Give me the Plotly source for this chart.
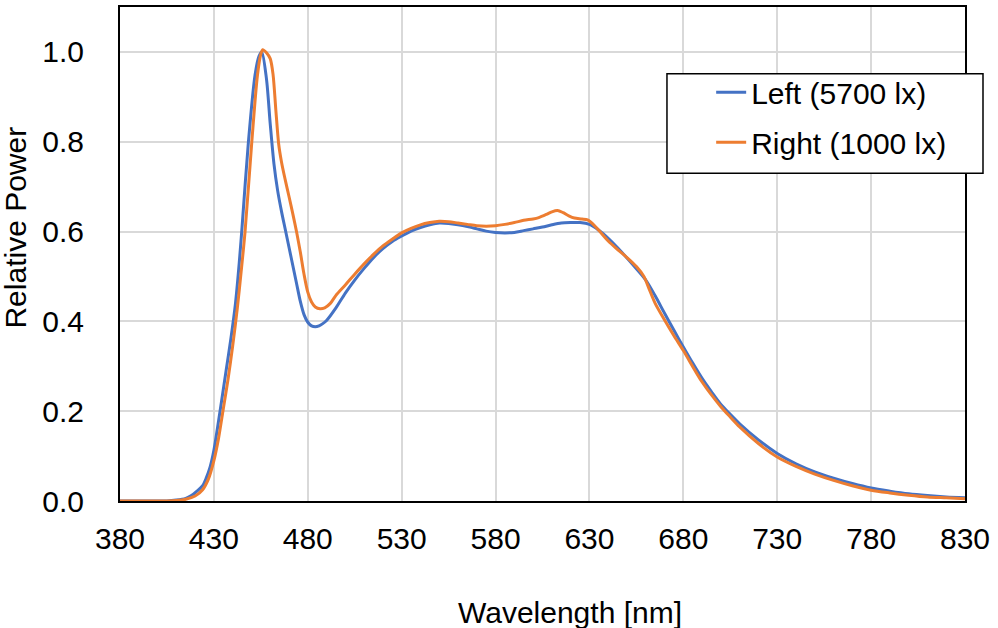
import plotly.graph_objects as go

# Wavelength samples (nm) and relative power
wl_left = [380, 400, 405, 410, 415, 418, 421, 424, 426, 428, 430, 432, 434, 436.5, 439, 441.5, 443.5,
           445, 448.4, 451.9, 454, 455.5, 458, 460, 462, 464, 466, 468, 470, 472, 474, 476, 478,
           480, 482, 484, 486, 488, 490, 495, 500, 505, 510, 515, 520, 525, 530, 535, 540, 545,
           550, 555, 560, 565, 570, 575, 580, 585, 590, 595, 600, 605, 610, 615, 620, 625, 630,
           635, 640, 645, 650, 655, 660, 665, 670, 675, 680, 685, 690, 695, 700, 705, 710, 720,
           730, 740, 750, 760, 770, 780, 790, 800, 810, 820, 830]
pw_left = [0.0, 0.0, 0.0, 0.002, 0.006, 0.012, 0.022, 0.034, 0.052, 0.076, 0.113, 0.165, 0.22, 0.29, 0.36, 0.44, 0.53,
           0.61, 0.8, 0.948, 0.99, 1.0, 0.94, 0.84, 0.75, 0.69, 0.645, 0.605, 0.565, 0.525, 0.485, 0.445, 0.415,
           0.398, 0.39, 0.388, 0.39, 0.395, 0.402, 0.43, 0.463, 0.492, 0.518, 0.542, 0.562, 0.578, 0.59, 0.601, 0.609, 0.615,
           0.619, 0.618, 0.615, 0.611, 0.606, 0.601, 0.598, 0.597, 0.598, 0.602, 0.606, 0.61, 0.615, 0.619, 0.62, 0.62, 0.616,
           0.603, 0.585, 0.564, 0.541, 0.517, 0.492, 0.457, 0.418, 0.38, 0.343, 0.307, 0.273, 0.243, 0.215, 0.193, 0.172, 0.136,
           0.106, 0.083, 0.065, 0.051, 0.039, 0.029, 0.022, 0.016, 0.012, 0.009, 0.007]

wl_right = [380, 400, 405, 410, 415, 420, 424, 427, 430, 432.5, 435, 437.5, 440, 442.5, 444.5, 446.6,
            450.2, 453.2, 455, 456, 458, 460, 461.5, 463, 464.5, 466, 468, 470, 472, 474, 476, 478,
            480, 482, 484, 486.5, 489, 492, 495, 500, 505, 510, 515, 520, 525, 530, 535, 540, 545,
            550, 555, 560, 565, 570, 575, 580, 585, 590, 595, 600, 603, 607, 610, 613, 616, 619, 622,
            626, 629, 632, 636, 640, 645, 650, 655, 659, 662, 665, 670, 675, 680, 690, 700, 705, 710,
            720, 730, 740, 750, 760, 770, 780, 790, 800, 810, 820, 830]
pw_right = [0.0, 0.0, 0.0, 0.001, 0.004, 0.011, 0.025, 0.048, 0.09, 0.14, 0.205, 0.27, 0.345, 0.43, 0.51, 0.6,
            0.8, 0.948, 0.995, 1.005, 0.998, 0.985, 0.95, 0.87, 0.795, 0.755, 0.715, 0.678, 0.64, 0.6, 0.555, 0.505,
            0.465, 0.443, 0.432, 0.428, 0.43, 0.44, 0.458, 0.481, 0.505, 0.528, 0.549, 0.568, 0.583, 0.597, 0.607, 0.615, 0.62,
            0.623, 0.622, 0.619, 0.616, 0.613, 0.612, 0.613, 0.616, 0.62, 0.625, 0.628, 0.631, 0.638, 0.644, 0.647, 0.642, 0.635, 0.63,
            0.628, 0.626, 0.616, 0.598, 0.579, 0.56, 0.542, 0.522, 0.5, 0.47, 0.44, 0.403, 0.368, 0.335, 0.265, 0.21, 0.187, 0.165,
            0.128, 0.098, 0.077, 0.06, 0.046, 0.034, 0.024, 0.018, 0.013, 0.009, 0.007, 0.005]

x_ticks = [380, 430, 480, 530, 580, 630, 680, 730, 780, 830]
y_ticks = [0.0, 0.2, 0.4, 0.6, 0.8, 1.0]

FONT = "Liberation Sans, Arial, sans-serif"
FS = 30

fig = go.Figure()
fig.add_trace(go.Scatter(x=wl_left, y=pw_left, mode="lines", name="Left (5700 lx)",
                         legend="legend",
                         line=dict(color="#4472C4", width=3, shape="spline", smoothing=0.8)))
fig.add_trace(go.Scatter(x=wl_right, y=pw_right, mode="lines", name="Right (1000 lx)",
                         legend="legend2",
                         line=dict(color="#ED7D31", width=3, shape="spline", smoothing=0.8)))

legend_common = dict(xanchor="left", yanchor="top", bgcolor="rgba(0,0,0,0)", borderwidth=0,
                     font=dict(size=FS))

fig.update_layout(
    width=998, height=628,
    margin=dict(l=120, r=33, t=5, b=127),
    paper_bgcolor="white", plot_bgcolor="white",
    font=dict(family=FONT, size=FS, color="black"),
    showlegend=True,
    legend=dict(x=0.6996, y=0.88, **legend_common),
    legend2=dict(x=0.6996, y=0.779, **legend_common),
    xaxis=dict(range=[380, 830], tickvals=x_ticks, ticktext=[str(v) for v in x_ticks],
               showgrid=True, gridcolor="#D9D9D9", gridwidth=2,
               showline=True, linecolor="black", linewidth=2, mirror=True,
               ticks="outside", ticklen=10, tickcolor="rgba(0,0,0,0)",
               zeroline=False),
    yaxis=dict(range=[0, 1.1], tickvals=y_ticks, ticktext=[f"{v:.1f}" for v in y_ticks],
               showgrid=True, gridcolor="#D9D9D9", gridwidth=2,
               showline=True, linecolor="black", linewidth=2, mirror=True,
               ticks="outside", ticklen=28, tickcolor="rgba(0,0,0,0)",
               zeroline=False),
    shapes=[
        dict(type="rect", xref="paper", yref="paper", x0=0.6473, x1=1.0213, y0=0.6633, y1=0.865,
             line=dict(color="black", width=1.5), fillcolor="white", layer="above"),
    ],
    annotations=[
        dict(text="Wavelength [nm]", xref="paper", yref="paper", x=0.5325, y=-0.226,
             xanchor="center", yanchor="middle", showarrow=False, font=dict(size=FS)),
        dict(text="Relative Power", xref="paper", yref="paper", x=-0.124, y=0.554,
             xanchor="center", yanchor="middle", textangle=-90, showarrow=False, font=dict(size=FS)),
    ],
)

fig.write_html("out.html", config={"displayModeBar": False},
               post_script="document.body.style.margin='0';document.body.style.overflow='hidden';")
